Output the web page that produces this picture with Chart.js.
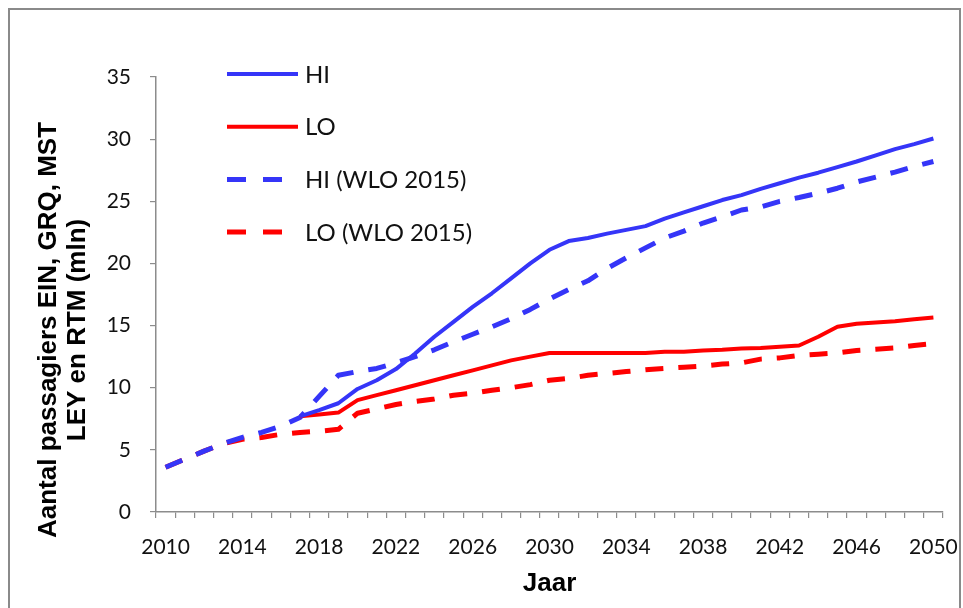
<!DOCTYPE html>
<html>
<head>
<meta charset="utf-8">
<script src="https://cdn.jsdelivr.net/npm/chart.js@4.4.1/dist/chart.umd.min.js"></script>
<style>
	html, body { margin: 0; padding: 0; background: #fff; }
	#wrap { position: relative; width: 963px; height: 608px; overflow: hidden; }
	#frame { position: absolute; left: 8px; top: 8px; right: 2px; bottom: -4px; border: 2px solid #8a8a8a; border-bottom: none; }
	#wrap canvas { position: absolute; left: 0; top: 0; }
</style>
</head>
<body>
<div id="wrap">
	<div id="frame"></div>
	<canvas id="lineChart"></canvas>
</div>
<script>
// jaren (categorieen)
var years = ['2010','2011','2012','2013','2014','2015','2016','2017','2018','2019',
	'2020','2021','2022','2023','2024','2025','2026','2027','2028','2029',
	'2030','2031','2032','2033','2034','2035','2036','2037','2038','2039',
	'2040','2041','2042','2043','2044','2045','2046','2047','2048','2049','2050'];

// HI / LO (nieuw), vanaf 2017
var hiVals = [null, null, null, null, null, null, null, 7.7, 8.2, 8.75,
	9.9, 10.6, 11.5, 12.75, 14.1, 15.3, 16.5, 17.6, 18.8, 20.0,
	21.1, 21.8, 22.05, 22.4, 22.7, 23.0, 23.6, 24.1, 24.6, 25.1,
	25.5, 26.0, 26.45, 26.9, 27.3, 27.75, 28.2, 28.7, 29.2, 29.6, 30.05];
var loVals = [null, null, null, null, null, null, null, 7.7, 7.85, 8.0,
	9.0, 9.4, 9.8, 10.2, 10.6, 11.0, 11.4, 11.8, 12.2, 12.5,
	12.8, 12.8, 12.8, 12.8, 12.8, 12.8, 12.9, 12.9, 13.0, 13.05,
	13.15, 13.2, 13.3, 13.4, 14.1, 14.9, 15.15, 15.25, 15.35, 15.5, 15.65];

// WLO 2015
var hiWloVals = [3.6, 4.25, 4.9, 5.5, 6.0, 6.4, 6.9, 7.6, 9.3, 11.0,
	11.3, 11.55, 12.0, 12.5, 13.05, 13.7, 14.3, 14.9, 15.55, 16.3,
	17.15, 17.9, 18.6, 19.6, 20.45, 21.25, 22.05, 22.6, 23.25, 23.75,
	24.3, 24.55, 25.0, 25.3, 25.65, 26.05, 26.55, 26.95, 27.35, 27.8, 28.2];
var loWloVals = [3.6, 4.25, 4.9, 5.5, 5.85, 6.0, 6.25, 6.4, 6.5, 6.65,
	7.95, 8.3, 8.65, 8.9, 9.1, 9.4, 9.55, 9.8, 10.0, 10.25,
	10.6, 10.75, 11.0, 11.15, 11.3, 11.45, 11.55, 11.65, 11.75, 11.9,
	12.0, 12.3, 12.4, 12.6, 12.7, 12.8, 13.0, 13.1, 13.2, 13.4, 13.55];

var seriesNames = ['HI', 'LO', 'HI (WLO 2015)', 'LO (WLO 2015)'];
var yTicks = [0, 5, 10, 15, 20, 25, 30, 35];
var yTitle = ['Aantal passagiers EIN, GRQ, MST', 'LEY en RTM (mln)'];
var xTitle = 'Jaar';

var BLUE = '#3535f8', RED = '#ff0000', AXIS = '#8c8c8c';

// legenda binnen het plotvlak, linksboven
var insideLegend = {
	id: 'insideLegend',
	afterDraw: function(chart){
		var ctx = chart.ctx, a = chart.chartArea;
		var x0 = a.left + 71, y0 = a.top - 3, rowH = 52.7;
		chart.data.datasets.forEach(function(ds, i){
			var y = y0 + i * rowH;
			ctx.save();
			ctx.strokeStyle = ds.borderColor;
			ctx.lineWidth = ds.borderWidth;
			ctx.lineCap = 'butt';
			ctx.beginPath();
			if(ds.borderDash){
				ctx.setLineDash([19, 17]);
				ctx.moveTo(x0, y); ctx.lineTo(x0 + 56, y);
			}else{
				ctx.moveTo(x0, y); ctx.lineTo(x0 + 71, y);
			}
			ctx.stroke();
			ctx.setLineDash([]);
			ctx.fillStyle = '#111';
			ctx.font = '24px Lato';
			ctx.textBaseline = 'middle';
			ctx.textAlign = 'left';
			ctx.fillText(ds.label, x0 + 78, y + 1);
			ctx.restore();
		});
	}
};

// y-as titel (twee regels, gedraaid)
var yAxisTitle = {
	id: 'yAxisTitle',
	afterDraw: function(chart){
		var ctx = chart.ctx;
		ctx.save();
		ctx.translate(49, 330);
		ctx.rotate(-Math.PI / 2);
		ctx.font = 'bold 26px "Liberation Sans", Arial, sans-serif';
		ctx.fillStyle = '#000';
		ctx.textAlign = 'center';
		ctx.textBaseline = 'middle';
		for(var i = 0; i < yTitle.length; i++){
			ctx.fillText(yTitle[i], 0, i * 29);
		}
		ctx.restore();
	}
};

var lineCanvas = document.getElementById('lineChart').getContext('2d');
var lineChart = new Chart(lineCanvas, {
	type: 'line',
	data: {
		labels: years,
		datasets: [
			{ label: seriesNames[0], data: hiVals, borderColor: BLUE, borderWidth: 4 },
			{ label: seriesNames[1], data: loVals, borderColor: RED, borderWidth: 4 },
			{ label: seriesNames[2], data: hiWloVals, borderColor: BLUE, borderWidth: 5, borderDash: [18, 15] },
			{ label: seriesNames[3], data: loWloVals, borderColor: RED, borderWidth: 5, borderDash: [18, 15] }
		]
	},
	options: {
		responsive: true,
		maintainAspectRatio: false,
		animation: false,
		layout: { padding: { top: 77, right: 20, left: 0, bottom: 0 } },
		elements: {
			point: { radius: 0, hoverRadius: 0 },
			line: { tension: 0, fill: false, borderCapStyle: 'butt', borderJoinStyle: 'round' }
		},
		plugins: {
			legend: { display: false },
			tooltip: { enabled: false }
		},
		scales: {
			x: {
				type: 'category',
				offset: true,
				afterFit: function(s){ s.height = 96; s.paddingLeft = 0; s.paddingRight = 20; },
				border: { display: true, color: AXIS, width: 1.5 },
				grid: { offset: true, drawOnChartArea: false, drawTicks: true, tickLength: 6, color: AXIS, lineWidth: 1.2 },
				ticks: {
					autoSkip: false,
					maxRotation: 0,
					padding: 17,
					color: '#111',
					font: { family: 'Lato', size: 21 },
					callback: function(val, idx){
						return (idx % 4 === 0) ? years[idx] : '';
					}
				},
				title: {
					display: true,
					text: xTitle,
					color: '#000',
					font: { family: '"Liberation Sans", Arial, sans-serif', size: 26, weight: 'bold' },
					padding: { top: 0, bottom: 9 }
				}
			},
			y: {
				min: yTicks[0],
				max: yTicks[yTicks.length - 1],
				afterFit: function(s){ s.width = 156; },
				afterBuildTicks: function(s){
					s.ticks = yTicks.map(function(v){ return { value: v }; });
				},
				border: { display: true, color: AXIS, width: 1.5 },
				grid: { drawOnChartArea: false, drawTicks: true, tickLength: 6, color: AXIS, lineWidth: 1.2 },
				ticks: {
					padding: 19,
					color: '#111',
					font: { family: 'Lato', size: 21 }
				}
			}
		}
	},
	plugins: [insideLegend, yAxisTitle]
});
</script>
</body>
</html>
